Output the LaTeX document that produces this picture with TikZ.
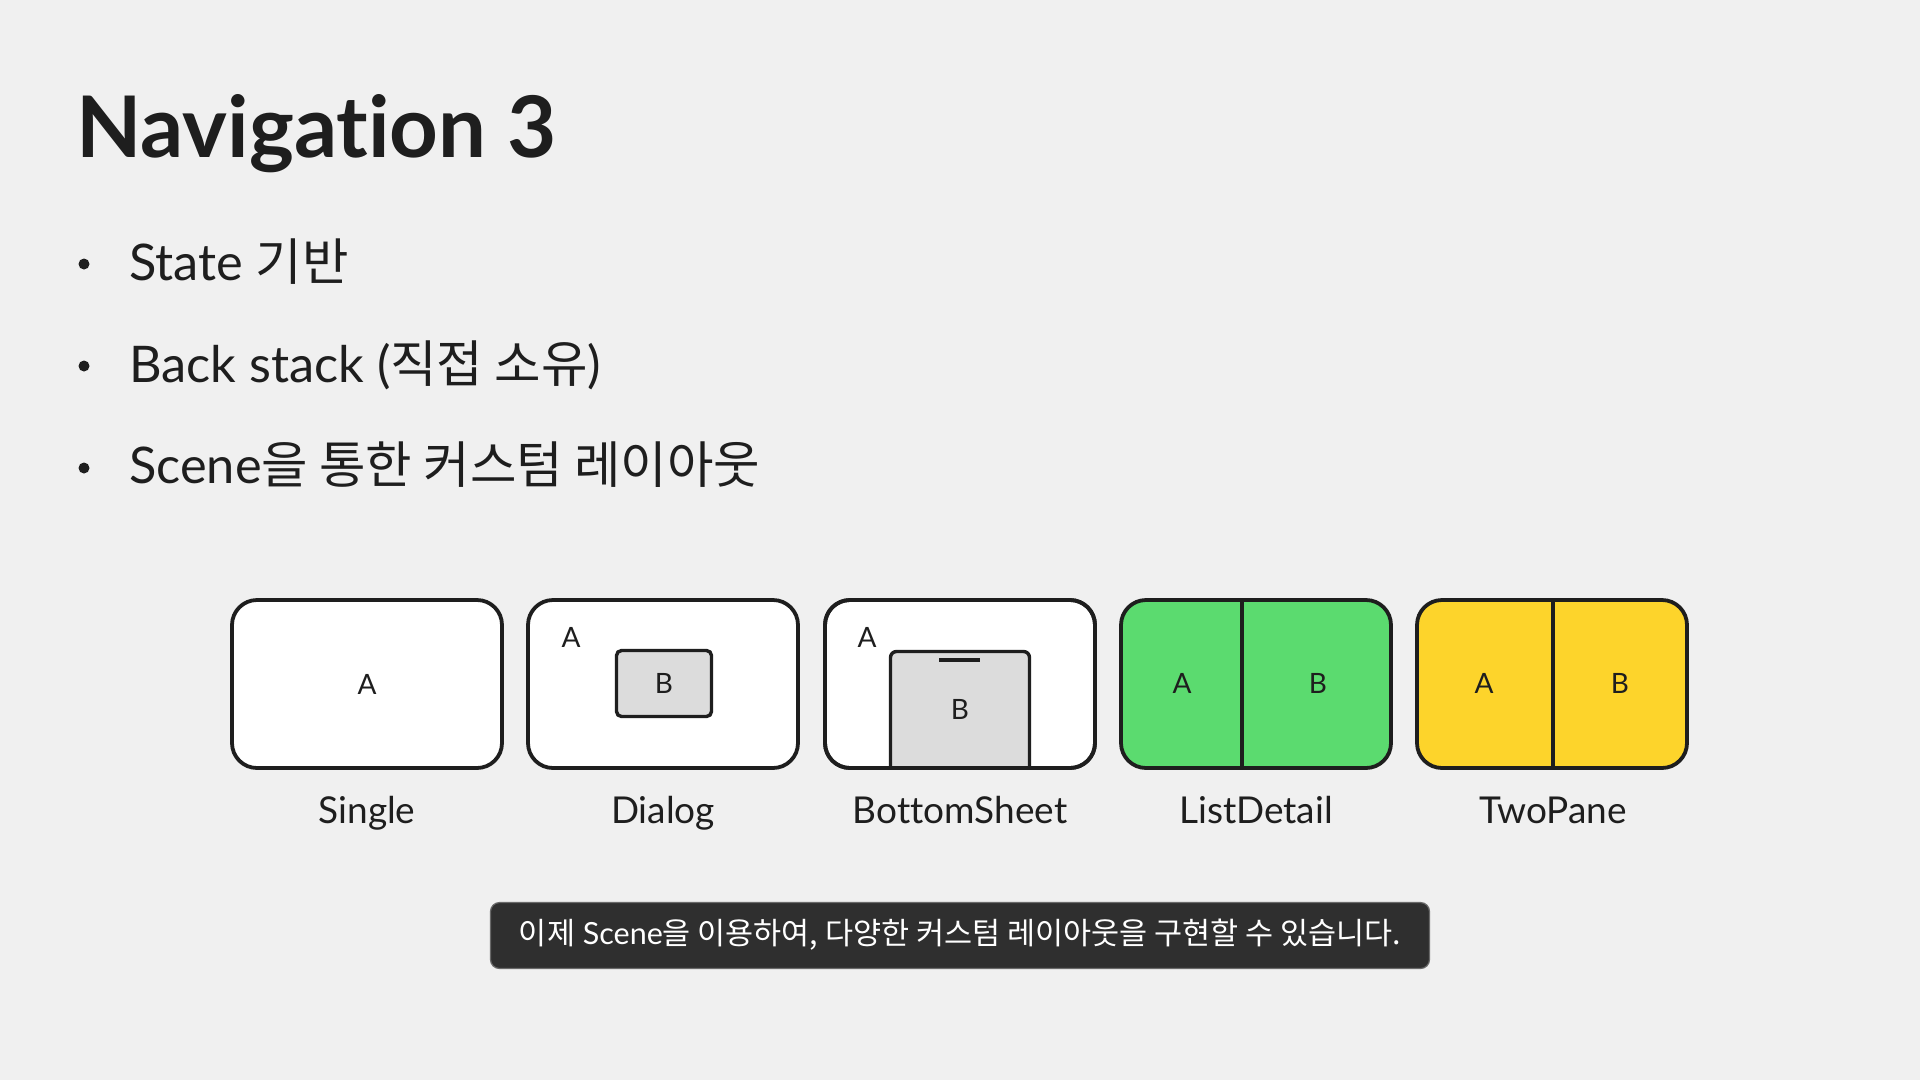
\documentclass[tikz,border=0pt]{standalone}
\usepackage{fontspec}
\setmainfont{Lato}[Ligatures={NoCommon}]
\newfontfamily\kr{Noto Sans CJK KR}
\definecolor{bg}{HTML}{F0F0F0}
\definecolor{ink}{HTML}{1E1E1E}
\definecolor{sheetgray}{HTML}{DCDCDC}
\definecolor{lgreen}{HTML}{5BDB6F}
\definecolor{lyellow}{HTML}{FDD42B}
\definecolor{capbg}{HTML}{2F2F2F}
\definecolor{capedge}{HTML}{6A6A6A}
\tikzset{
  frame/.style={draw=ink, line width=3.8pt, rounded corners=25pt, outer sep=0pt,
    minimum width=270pt, minimum height=168pt, inner sep=0pt},
  framestroke/.style={draw=ink, line width=3.8pt, rounded corners=25pt},
  inner/.style={font=\fontsize{28}{32}\selectfont, text=ink, inner sep=0pt},
  caplbl/.style={font=\fontsize{37}{44}\selectfont, text=ink, anchor=base, inner sep=0pt},
  bullettext/.style={font=\fontsize{50.5}{60}\selectfont, text=ink, anchor=base west, inner sep=0pt},
  dot/.style={fill=ink, draw=none},
  divider/.style={draw=ink, line width=3.6pt},
}
\begin{document}
\begin{tikzpicture}[x=1pt,y=-1pt]
\useasboundingbox (0,0) rectangle (1920,1080);
\fill[bg] (0,0) rectangle (1920,1080);

% title
\node[anchor=base west, inner sep=0pt, text=ink, font=\fontsize{85}{100}\selectfont\bfseries] (title) at (76,157) {Navigation 3};

% bullets
\fill[dot] (84,264) circle (5.5pt);
\node[bullettext] (b1) at (129,280) {State {\kr 기반}};
\fill[dot] (84,366) circle (5.5pt);
\node[bullettext] (b2) at (129,382) {Back stack ({\kr 직접 소유})};
\fill[dot] (84,468) circle (5.5pt);
\node[bullettext] (b3) at (129,483) {Scene{\kr 을 통한 커스텀 레이아웃}};

% Single
\node[frame, fill=white] (single) at (367,684) {};
\node[inner] (singleA) at (single.center) {A};
\node[caplbl] (singleL) at (367,823) {Single};

% Dialog
\node[frame, fill=white] (dialog) at (663,684) {};
\node[inner] (dialogA) at (571,637) {A};
\node[draw=ink, line width=3.4pt, fill=sheetgray, rounded corners=5pt, minimum width=95pt, minimum height=66pt, inner sep=0pt] (dialogB) at (664,683.5) {};
\node[inner] (dialogBt) at (dialogB.center) {B};
\node[caplbl] (dialogL) at (663,823) {Dialog};

% BottomSheet
\node[frame, fill=white] (bs) at (960,684) {};
\node[inner] (bsA) at (867,637) {A};
\coordinate (sheetL) at (890.5,767);
\coordinate (sheetT) at (960,651.5);
\coordinate (sheetR) at (1029.5,767);
\draw[draw=ink, line width=3.4pt, fill=sheetgray, rounded corners=6pt] (sheetL) |- (sheetT) -| (sheetR);
\coordinate (handleL) at (939,660);
\coordinate (handleR) at (980,660);
\draw[draw=ink, line width=4pt] (handleL) -- (handleR);
\node[inner] (bsB) at (960,709) {B};
\draw[framestroke] (bs.south west) rectangle (bs.north east);
\node[caplbl] (bsL) at (960,823) {BottomSheet};

% ListDetail
\node[frame, fill=lgreen] (ld) at (1256,684) {};
\coordinate (ldTop) at (1242,600);
\coordinate (ldBot) at (1242,768);
\draw[divider] (ldTop) -- (ldBot);
\node[inner] (ldA) at (1182,683) {A};
\node[inner] (ldB) at (1318,683) {B};
\node[caplbl] (ldL) at (1256,823) {ListDetail};

% TwoPane
\node[frame, fill=lyellow] (tp) at (1552,684) {};
\coordinate (tpTop) at (1553,600);
\coordinate (tpBot) at (1553,768);
\draw[divider] (tpTop) -- (tpBot);
\node[inner] (tpA) at (1484,683) {A};
\node[inner] (tpB) at (1620,683) {B};
\node[caplbl] (tpL) at (1553,823) {TwoPane};

% caption
\node[fill=capbg, draw=capedge, line width=1.2pt, rounded corners=9pt, minimum width=939pt, minimum height=66pt, inner sep=0pt] (capbox) at (960,935.5) {};
\node[text=white, inner sep=0pt, font=\fontsize{30.5}{36}\selectfont] (captext) at (960,935) {{\kr 이제} Scene{\kr 을 이용하여, 다양한 커스텀 레이아웃을 구현할 수 있습니다.}};
\end{tikzpicture}
\end{document}
